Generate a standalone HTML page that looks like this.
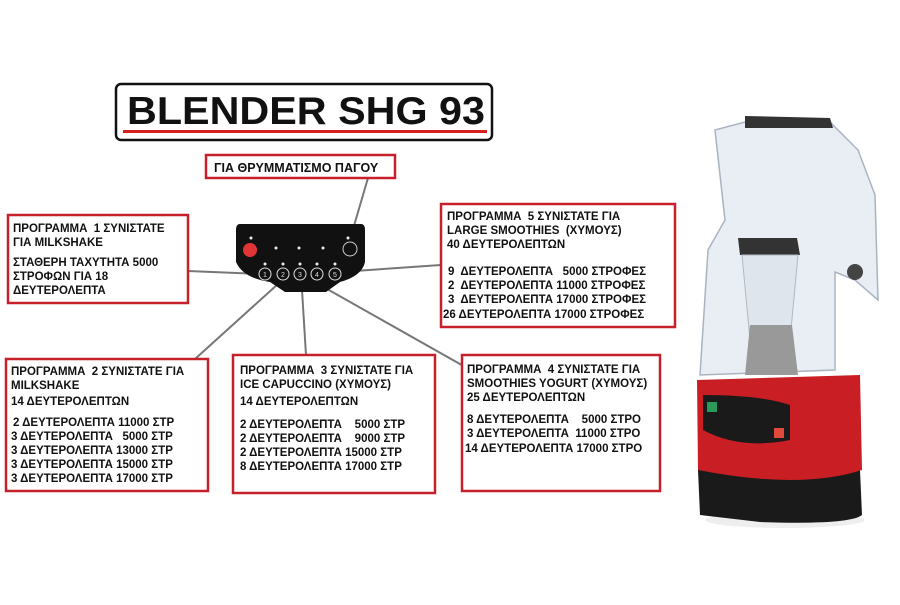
<!DOCTYPE html>
<html><head><meta charset="utf-8"><style>
body{margin:0;background:#fff;}
svg text{font-family:"Liberation Sans",Arial,sans-serif;font-weight:bold;fill:#111;white-space:pre;}
</style></head><body>
<svg width="900" height="600" viewBox="0 0 900 600" xmlns="http://www.w3.org/2000/svg">
<rect width="900" height="600" fill="#fff"/>
<!-- title -->
<rect x="116" y="84" width="376" height="56" rx="5" fill="#fff" stroke="#111" stroke-width="2.5"/>
<text x="127" y="124" font-size="39" textLength="358" lengthAdjust="spacingAndGlyphs">BLENDER SHG 93</text>
<rect x="123" y="130" width="364" height="3" fill="#d42020"/>
<!-- connectors -->
<g stroke="#777" stroke-width="2" fill="none">
<line x1="188" y1="271" x2="262" y2="274"/>
<line x1="340" y1="272" x2="441" y2="265"/>
<line x1="195" y1="359" x2="278" y2="284"/>
<line x1="302" y1="290" x2="306" y2="355"/>
<line x1="320" y1="285" x2="467" y2="368"/>
<line x1="368" y1="178" x2="351" y2="236"/>
</g>
<!-- panel -->
<path d="M240 224 H361 Q365 224 365 230 V262 Q362 276 340 282 L326 292 H285 L270 282 Q243 278 236 262 V230 Q236 224 240 224Z" fill="#111"/>
<circle cx="250" cy="250" r="7" fill="#e03535"/>
<circle cx="350" cy="249" r="7" fill="none" stroke="#ccc" stroke-width="1"/>
<g fill="#eee"><circle cx="251" cy="238" r="1.5"/><circle cx="276" cy="248" r="1.5"/><circle cx="299" cy="248" r="1.5"/><circle cx="323" cy="248" r="1.5"/><circle cx="348" cy="238" r="1.5"/>
<circle cx="265" cy="264" r="1.5"/><circle cx="283" cy="264" r="1.5"/><circle cx="300" cy="264" r="1.5"/><circle cx="317" cy="264" r="1.5"/><circle cx="335" cy="264" r="1.5"/></g>
<g fill="none" stroke="#ddd" stroke-width="1"><circle cx="265" cy="274" r="6"/><circle cx="283" cy="274" r="6"/><circle cx="300" cy="274" r="6"/><circle cx="317" cy="274" r="6"/><circle cx="335" cy="274" r="6"/></g>
<g font-size="7"><text x="263" y="277" style="fill:#ddd;font-weight:normal">1</text><text x="281" y="277" style="fill:#ddd;font-weight:normal">2</text><text x="298" y="277" style="fill:#ddd;font-weight:normal">3</text><text x="315" y="277" style="fill:#ddd;font-weight:normal">4</text><text x="333" y="277" style="fill:#ddd;font-weight:normal">5</text></g>
<!-- boxes -->
<g fill="#fff" stroke="#c8202a" stroke-width="2.5">
<rect x="206" y="155" width="189" height="23"/>
<rect x="8" y="215" width="180" height="88"/>
<rect x="441" y="204" width="234" height="123"/>
<rect x="6" y="359" width="202" height="132"/>
<rect x="233" y="355" width="202" height="138"/>
<rect x="462" y="355" width="198" height="136"/>
</g>
<text x="214" y="172" font-size="12.5">ΓΙΑ ΘΡΥΜΜΑΤΙΣΜΟ ΠΑΓΟΥ</text>
<g font-size="11.5">
<text x="13" y="232">ΠΡΟΓΡΑΜΜΑ  1 ΣΥΝΙΣΤΑΤΕ</text>
<text x="13" y="246">ΓΙΑ MILKSHAKE</text>
<text x="13" y="266">ΣΤΑΘΕΡΗ ΤΑΧΥΤΗΤΑ 5000</text>
<text x="13" y="280">ΣΤΡΟΦΩΝ ΓΙΑ 18</text>
<text x="13" y="294">ΔΕΥΤΕΡΟΛΕΠΤΑ</text>

<text x="447" y="220">ΠΡΟΓΡΑΜΜΑ  5 ΣΥΝΙΣΤΑΤΕ ΓΙΑ</text>
<text x="447" y="234">LARGE SMOOTHIES  (ΧΥΜΟΥΣ)</text>
<text x="447" y="248">40 ΔΕΥΤΕΡΟΛΕΠΤΩΝ</text>
<text x="448" y="275">9  ΔΕΥΤΕΡΟΛΕΠΤΑ   5000 ΣΤΡΟΦΕΣ</text>
<text x="448" y="289">2  ΔΕΥΤΕΡΟΛΕΠΤΑ 11000 ΣΤΡΟΦΕΣ</text>
<text x="448" y="303">3  ΔΕΥΤΕΡΟΛΕΠΤΑ 17000 ΣΤΡΟΦΕΣ</text>
<text x="443" y="318">26 ΔΕΥΤΕΡΟΛΕΠΤΑ 17000 ΣΤΡΟΦΕΣ</text>

<text x="11" y="375">ΠΡΟΓΡΑΜΜΑ  2 ΣΥΝΙΣΤΑΤΕ ΓΙΑ</text>
<text x="11" y="389">MILKSHAKE</text>
<text x="11" y="405">14 ΔΕΥΤΕΡΟΛΕΠΤΩΝ</text>
<text x="13" y="426">2 ΔΕΥΤΕΡΟΛΕΠΤΑ 11000 ΣΤΡ</text>
<text x="11" y="440">3 ΔΕΥΤΕΡΟΛΕΠΤΑ   5000 ΣΤΡ</text>
<text x="11" y="454">3 ΔΕΥΤΕΡΟΛΕΠΤΑ 13000 ΣΤΡ</text>
<text x="11" y="468">3 ΔΕΥΤΕΡΟΛΕΠΤΑ 15000 ΣΤΡ</text>
<text x="11" y="482">3 ΔΕΥΤΕΡΟΛΕΠΤΑ 17000 ΣΤΡ</text>

<text x="240" y="374">ΠΡΟΓΡΑΜΜΑ  3 ΣΥΝΙΣΤΑΤΕ ΓΙΑ</text>
<text x="240" y="388">ICE CAPUCCINO (ΧΥΜΟΥΣ)</text>
<text x="240" y="405">14 ΔΕΥΤΕΡΟΛΕΠΤΩΝ</text>
<text x="240" y="428">2 ΔΕΥΤΕΡΟΛΕΠΤΑ    5000 ΣΤΡ</text>
<text x="240" y="442">2 ΔΕΥΤΕΡΟΛΕΠΤΑ    9000 ΣΤΡ</text>
<text x="240" y="456">2 ΔΕΥΤΕΡΟΛΕΠΤΑ 15000 ΣΤΡ</text>
<text x="240" y="470">8 ΔΕΥΤΕΡΟΛΕΠΤΑ 17000 ΣΤΡ</text>

<text x="467" y="373">ΠΡΟΓΡΑΜΜΑ  4 ΣΥΝΙΣΤΑΤΕ ΓΙΑ</text>
<text x="467" y="387">SMOOTHIES YOGURT (ΧΥΜΟΥΣ)</text>
<text x="467" y="401">25 ΔΕΥΤΕΡΟΛΕΠΤΩΝ</text>
<text x="467" y="423">8 ΔΕΥΤΕΡΟΛΕΠΤΑ    5000 ΣΤΡΟ</text>
<text x="467" y="437">3 ΔΕΥΤΕΡΟΛΕΠΤΑ  11000 ΣΤΡΟ</text>
<text x="465" y="452">14 ΔΕΥΤΕΡΟΛΕΠΤΑ 17000 ΣΤΡΟ</text>
</g>
<!-- blender -->
<g>
<ellipse cx="785" cy="520" rx="80" ry="8" fill="#eee"/>
<path d="M698 470 L860 470 L862 515 Q850 525 760 522 L700 515Z" fill="#1a1a1a"/>
<path d="M697 380 L860 375 L862 470 Q800 490 698 470Z" fill="#c81e24"/>
<path d="M703 395 Q760 395 790 405 L790 440 Q740 450 703 430Z" fill="#1a1a1a"/>
<rect x="707" y="402" width="10" height="10" fill="#2a9a5a"/>
<rect x="774" y="428" width="10" height="10" fill="#e04a3a"/>
<path d="M715 130 L760 118 L830 122 L858 150 L875 195 L878 300 L855 280 L835 272 L835 370 L700 375 L708 250 L725 220Z" fill="#e8eef4" stroke="#aab4c0" stroke-width="1.5"/>
<path d="M745 116 L830 118 L833 128 L745 128Z" fill="#333"/>
<path d="M738 238 L797 238 L800 255 L740 255Z" fill="#333"/>
<path d="M742 255 L798 255 L790 340 L750 340Z" fill="#dfe5ec" stroke="#b0b8c2"/>
<path d="M750 325 L792 325 L798 375 L745 375Z" fill="#999"/>
<circle cx="855" cy="272" r="8" fill="#444"/>
</g>
</svg>
</body></html>
